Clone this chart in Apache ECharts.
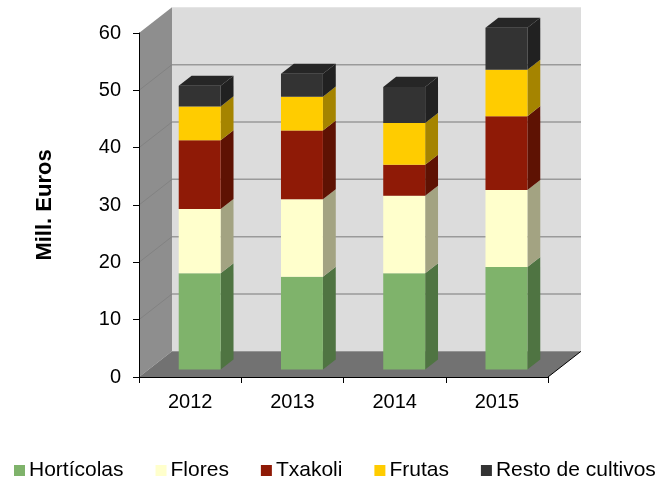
<!DOCTYPE html>
<html>
<head>
<meta charset="utf-8">
<script src="https://cdn.jsdelivr.net/npm/echarts@6/dist/echarts.min.js"></script>
<style>
html,body{margin:0;padding:0;background:#fff;}
#chart{width:665px;height:481px;}
</style>
</head>
<body>
<div id="chart"></div>
<script>
// ---- data ----
const years = ['2012', '2013', '2014', '2015'];
const horticolas = [16.8, 16.2, 16.8, 17.9];
const flores = [11.2, 13.5, 13.5, 13.4];
const txakoli = [12.0, 12.0, 5.4, 12.9];
const frutas = [5.9, 5.9, 7.3, 8.1];
const resto = [3.6, 4.0, 6.3, 7.3];
const seriesNames = ['Hortícolas', 'Flores', 'Txakoli', 'Frutas', 'Resto de cultivos'];
const yTicks = [0, 10, 20, 30, 40, 50, 60];

// ---- styles ----
const FONT = '"Liberation Sans", Arial, sans-serif';
const DX = 33, DY = -25.7;       // full depth offset of the 3D box
const F0 = 0.29, FD = 0.39;      // bar front position / bar depth as fraction of depth
const faceColors = [
  { front: '#7fb36b', side: '#4f7442', top: '#6a9a58' },
  { front: '#ffffcc', side: '#a3a382', top: '#d8d8ad' },
  { front: '#8f1a06', side: '#5e1203', top: '#741505' },
  { front: '#ffcc00', side: '#a58400', top: '#d6aa00' },
  { front: '#333333', side: '#212121', top: '#262626' }
];

const allValues = [horticolas, flores, txakoli, frutas, resto];

function barRender(ci, isTop) {
  const col = faceColors[ci];
  return function (params, api) {
    const c = api.value(0), lo = api.value(1), hi = api.value(2);
    const p0 = api.coord([c, lo]), p1 = api.coord([c, hi]);
    const band = api.size([1, 0])[0];
    const w = band * 0.41;
    const ox = DX * F0, oy = DY * F0, ddx = DX * FD, ddy = DY * FD;
    const xl = p0[0] - w / 2 + ox, xr = xl + w;
    const yb = p0[1] + oy, yt = p1[1] + oy;
    const children = [
      { type: 'polygon', shape: { points: [[xr, yb], [xr, yt], [xr + ddx, yt + ddy], [xr + ddx, yb + ddy]] }, style: { fill: col.side } },
      { type: 'rect', shape: { x: xl, y: yt, width: w, height: yb - yt }, style: { fill: col.front } }
    ];
    if (isTop) {
      children.push({ type: 'polygon', shape: { points: [[xl, yt], [xr, yt], [xr + ddx, yt + ddy], [xl + ddx, yt + ddy]] }, style: { fill: col.top } });
    }
    return { type: 'group', children: children };
  };
}

function bgRender(params, api) {
  const cs = params.coordSys;
  const x0 = cs.x, x1 = cs.x + cs.width;
  const yZero = api.coord([0, yTicks[0]])[1];
  const yTop = api.coord([0, yTicks[yTicks.length - 1]])[1];
  const ch = [];
  // back wall
  ch.push({ type: 'rect', shape: { x: x0 + DX, y: yTop + DY, width: x1 - x0, height: yZero - yTop }, style: { fill: '#dcdcdc' } });
  // back wall grid lines
  yTicks.slice(1, -1).forEach(function (v) {
    const y = api.coord([0, v])[1] + DY;
    ch.push({ type: 'line', shape: { x1: x0 + DX, y1: y, x2: x1 + DX, y2: y }, style: { stroke: '#9a9a9a', lineWidth: 1.5 } });
  });
  // left wall
  ch.push({ type: 'polygon', shape: { points: [[x0, yZero], [x0, yTop], [x0 + DX, yTop + DY], [x0 + DX, yZero + DY]] }, style: { fill: '#8e8e8e' } });
  yTicks.slice(1, -1).forEach(function (v) {
    const y = api.coord([0, v])[1];
    ch.push({ type: 'line', shape: { x1: x0, y1: y, x2: x0 + DX, y2: y + DY }, style: { stroke: '#828282', lineWidth: 1 } });
  });
  // floor
  ch.push({ type: 'polygon', shape: { points: [[x0, yZero], [x1, yZero], [x1 + DX, yZero + DY], [x0 + DX, yZero + DY]] }, style: { fill: '#727272' } });
  ch.push({ type: 'line', shape: { x1: x1, y1: yZero, x2: x1 + DX, y2: yZero + DY }, style: { stroke: '#000', lineWidth: 1 } });
  return { type: 'group', children: ch };
}

const series = [{
  type: 'custom',
  name: '__bg',
  z: -1,
  silent: true,
  renderItem: bgRender,
  data: [[0, 0, 0]],
  encode: { x: 0, y: [1, 2] }
}];

const base = years.map(function () { return 0; });
allValues.forEach(function (vals, si) {
  const data = vals.map(function (v, i) {
    const lo = base[i];
    base[i] += v;
    return [i, lo, base[i]];
  });
  series.push({
    type: 'custom',
    name: seriesNames[si],
    itemStyle: { color: faceColors[si].front },
    renderItem: barRender(si, si === allValues.length - 1),
    data: data,
    encode: { x: 0, y: [1, 2] },
    z: 2 + si
  });
});

const chart = echarts.init(document.getElementById('chart'), null, { renderer: 'canvas' });
chart.setOption({
  animation: false,
  backgroundColor: '#ffffff',
  textStyle: { fontFamily: FONT },
  grid: { left: 139, right: 117, top: 33, bottom: 104 },
  legend: {
    data: seriesNames,
    left: 9,
    top: 455,
    icon: 'rect',
    itemWidth: 11,
    itemHeight: 11,
    itemGap: 32,
    textStyle: { fontFamily: FONT, fontSize: 21, color: '#000', padding: [0, 0, 0, -1] }
  },
  xAxis: {
    type: 'category',
    data: years,
    boundaryGap: true,
    axisLine: { show: true, lineStyle: { color: '#000', width: 1 } },
    axisTick: { show: true, length: 6, lineStyle: { color: '#000' } },
    axisLabel: { fontFamily: FONT, fontSize: 20, color: '#000', margin: 15 },
    splitLine: { show: false },
    z: 5
  },
  yAxis: {
    type: 'value',
    min: 0,
    max: 60,
    interval: 10,
    name: 'Mill. Euros',
    nameLocation: 'middle',
    nameRotate: 90,
    nameGap: 83,
    nameTextStyle: { fontFamily: FONT, fontSize: 22, fontWeight: 'bold', color: '#000' },
    axisLine: { show: true, lineStyle: { color: '#000', width: 1 } },
    axisTick: { show: true, length: 6, lineStyle: { color: '#000' } },
    axisLabel: { fontFamily: FONT, fontSize: 20, color: '#000', margin: 18 },
    splitLine: { show: false },
    z: 5
  },
  series: series
});
</script>
</body>
</html>
